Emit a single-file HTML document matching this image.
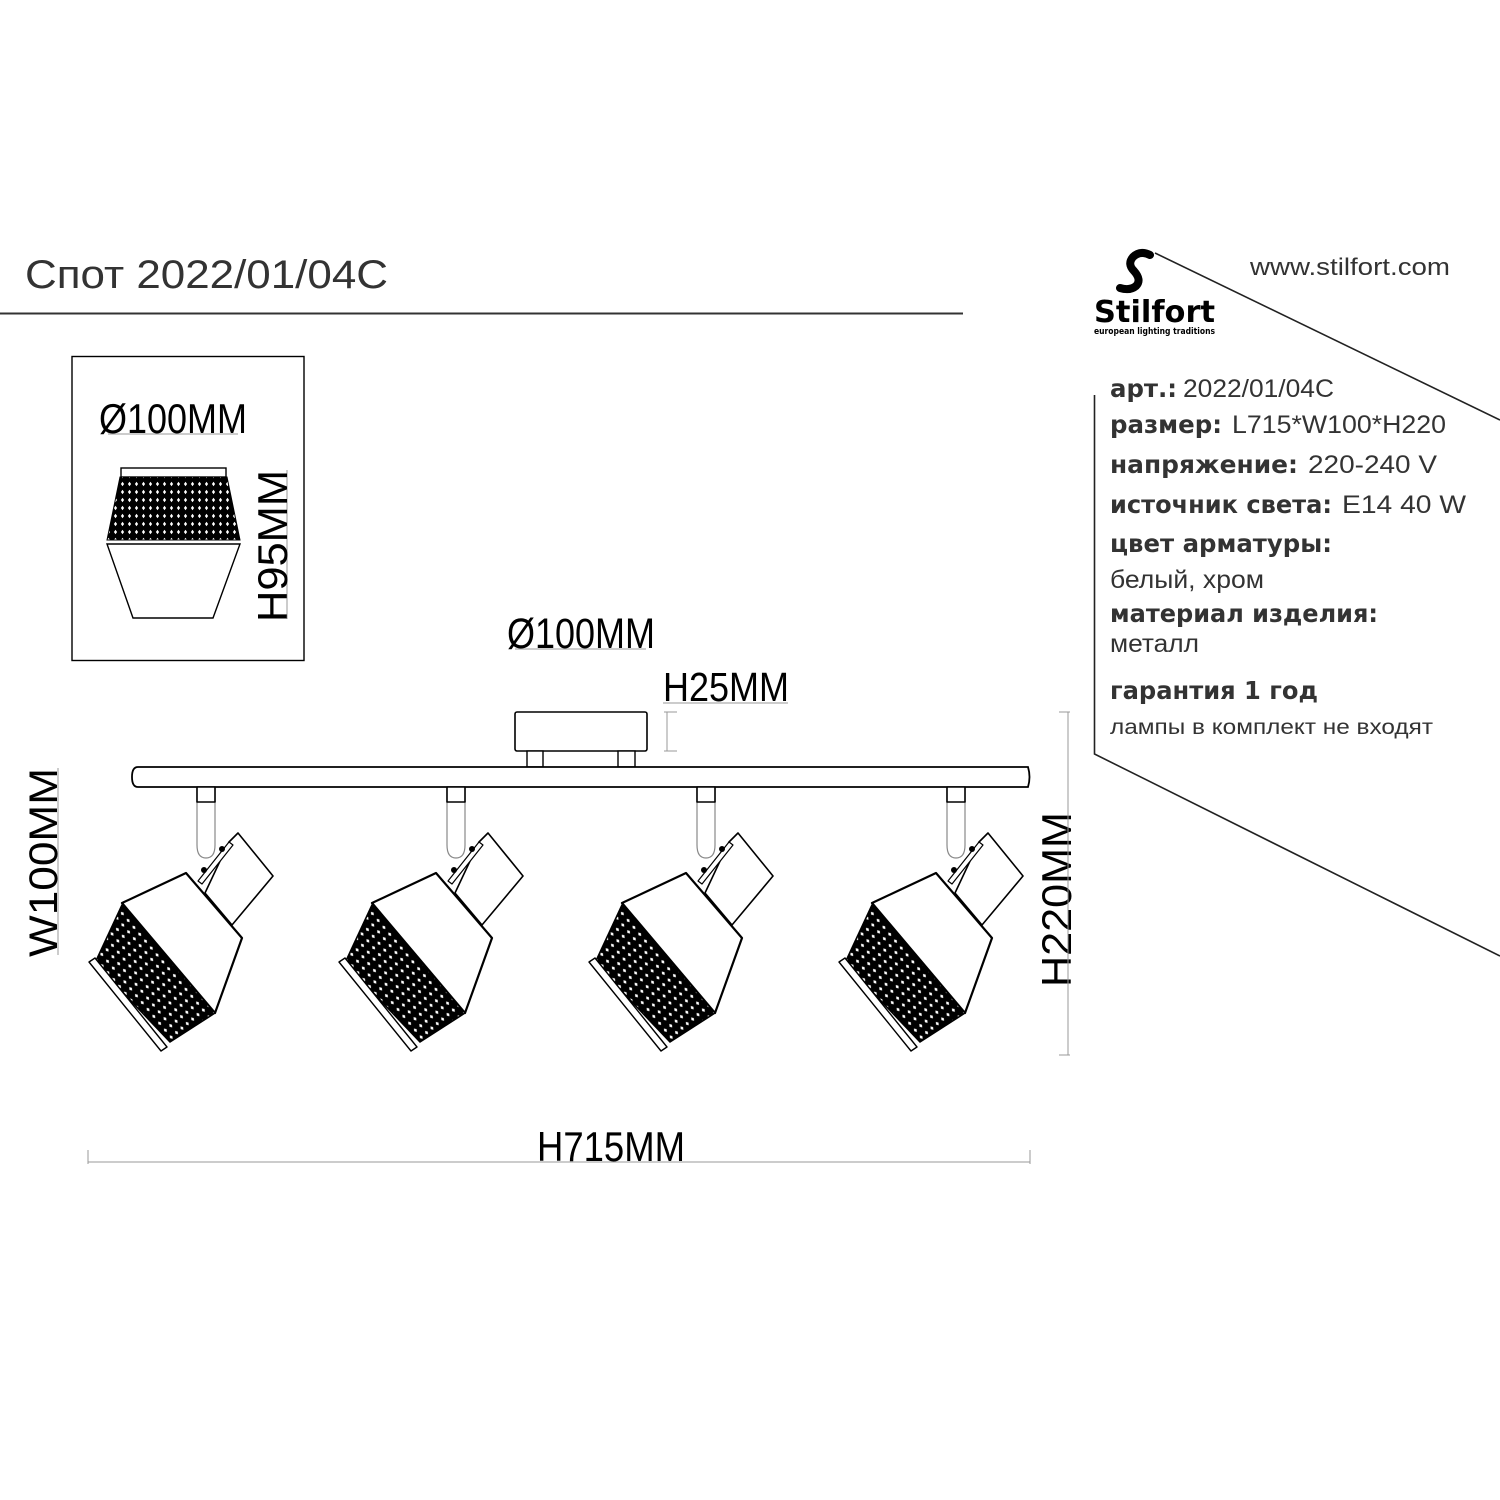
<!DOCTYPE html>
<html><head><meta charset="utf-8"><style>
html,body{margin:0;padding:0;background:#fff;}
svg{display:block;}
.dim{font-family:"Liberation Sans",sans-serif;fill:#000;}
.b{font-family:"DejaVu Sans","Liberation Sans",sans-serif;font-weight:bold;fill:#333;}
.r{font-family:"Liberation Sans",sans-serif;fill:#333;}
</style></head><body>
<svg width="1500" height="1500" viewBox="0 0 1500 1500" xmlns="http://www.w3.org/2000/svg">
<defs>
<pattern id="mesh" width="7" height="9" patternUnits="userSpaceOnUse" patternTransform="rotate(-40)">
<rect width="7" height="9" fill="#000"/>
<path d="M3.5,2.2 L5.1,4.5 L3.5,6.8 L1.9,4.5 Z" fill="#fff"/>
</pattern>
<pattern id="mesh2" width="7" height="8" patternUnits="userSpaceOnUse">
<rect width="7" height="8" fill="#000"/>
<path d="M3.5,1.8 L5.1,4 L3.5,6.2 L1.9,4 Z" fill="#fff"/>
</pattern>
<g id="lamp" fill="#fff" stroke="#000" stroke-width="1.6" stroke-linejoin="round">
<path d="M197,845 L197,787 L215,787 L215,845 Q215,858 206,858 Q197,858 197,845 Z" stroke="#888" stroke-width="1.2"/>
<rect x="197" y="787" width="18" height="15" stroke="#000"/>
<path d="M229,842 L238,833 L273,876 L232,925 L205,893 Z"/>
<path d="M198,881 L229,842 L233,845 L202,884 Z" stroke-width="1.2"/>
<circle cx="204" cy="870" r="3" fill="#000" stroke="none"/>
<circle cx="222" cy="849" r="3" fill="#000" stroke="none"/>
<path d="M122,903 L186,873 L242,938 L215,1013 Z" stroke-width="2.2"/>
<path d="M122,905 L215,1013 L170,1042 L95,963 Z" fill="url(#mesh)" stroke="#000"/>
<path d="M89,962 L95,958 L167,1047 L161,1051 Z" stroke-width="1.4"/>
</g>
</defs>

<text x="25" y="288" class="r" font-size="40" textLength="363" lengthAdjust="spacingAndGlyphs">Спот 2022/01/04C</text>
<line x1="0" y1="313.5" x2="963" y2="313.5" stroke="#333" stroke-width="2"/>

<rect x="72" y="356.5" width="232" height="304" fill="none" stroke="#000" stroke-width="1.4"/>
<text x="99" y="433" class="dim" font-size="42" textLength="148" lengthAdjust="spacingAndGlyphs">Ø100MM</text>
<line x1="108" y1="434" x2="238" y2="434" stroke="#999" stroke-width="1"/>
<rect x="121" y="468" width="105" height="9" fill="#fff" stroke="#000" stroke-width="1.4"/>
<path d="M120,477 L227,477 L240,540 L107,540 Z" fill="url(#mesh2)" stroke="#000" stroke-width="1"/>
<path d="M107,544 L240,544 L213,618 L133,618 Z" fill="#fff" stroke="#000" stroke-width="1.4"/>
<line x1="287" y1="470" x2="287" y2="619" stroke="#999" stroke-width="1"/>
<text transform="translate(287,622) rotate(-90)" class="dim" font-size="42" textLength="152" lengthAdjust="spacingAndGlyphs">H95MM</text>

<text x="507" y="648" class="dim" font-size="43" textLength="148" lengthAdjust="spacingAndGlyphs">Ø100MM</text>
<line x1="515" y1="649" x2="646" y2="649" stroke="#999" stroke-width="1"/>
<text x="663" y="701" class="dim" font-size="41" textLength="126" lengthAdjust="spacingAndGlyphs">H25MM</text>
<line x1="663" y1="703" x2="788" y2="703" stroke="#999" stroke-width="1"/>
<line x1="667" y1="712" x2="667" y2="751" stroke="#999" stroke-width="1"/>
<line x1="664" y1="712" x2="677" y2="712" stroke="#999" stroke-width="1"/>
<line x1="664" y1="751" x2="677" y2="751" stroke="#999" stroke-width="1"/>
<rect x="515" y="712" width="132" height="39" rx="2" fill="#fff" stroke="#000" stroke-width="1.6"/>
<rect x="527" y="751" width="16" height="16" fill="#fff" stroke="#000" stroke-width="1.4"/>
<rect x="618" y="751" width="17" height="16" fill="#fff" stroke="#000" stroke-width="1.4"/>

<path d="M138,767 L1028,767 Q1031,777 1028,787 L138,787 Q132,787 132,777 Q132,767 138,767 Z" fill="#fff" stroke="#000" stroke-width="1.8"/>

<use href="#lamp"/>
<use href="#lamp" transform="translate(250,0)"/>
<use href="#lamp" transform="translate(500,0)"/>
<use href="#lamp" transform="translate(750,0)"/>

<text transform="translate(57,957) rotate(-90)" class="dim" font-size="40" textLength="189" lengthAdjust="spacingAndGlyphs">W100MM</text>
<line x1="58" y1="768" x2="58" y2="955" stroke="#999" stroke-width="1"/>

<text transform="translate(1071,987) rotate(-90)" class="dim" font-size="42" textLength="175" lengthAdjust="spacingAndGlyphs">H220MM</text>
<line x1="1068" y1="712" x2="1068" y2="1055" stroke="#999" stroke-width="1"/>
<line x1="1059" y1="712" x2="1070" y2="712" stroke="#999" stroke-width="1"/>
<line x1="1059" y1="1055" x2="1070" y2="1055" stroke="#999" stroke-width="1"/>

<text x="537" y="1161" class="dim" font-size="42" textLength="148" lengthAdjust="spacingAndGlyphs">H715MM</text>
<line x1="88" y1="1162" x2="1030" y2="1162" stroke="#999" stroke-width="1"/>
<line x1="88" y1="1150" x2="88" y2="1164" stroke="#999" stroke-width="1"/>
<line x1="1030" y1="1150" x2="1030" y2="1164" stroke="#999" stroke-width="1"/>

<line x1="1155" y1="253" x2="1500" y2="420" stroke="#222" stroke-width="1.6"/>
<polyline points="1094.5,395 1094.5,754 1500,956" fill="none" stroke="#222" stroke-width="1.6"/>

<path d="M1150,255 Q1140,250 1133,257 Q1127,264 1134,271 Q1142,280 1136,286 Q1130,291 1120,288" fill="none" stroke="#000" stroke-width="8" stroke-linecap="round"/>
<text x="1094" y="322" font-family="DejaVu Sans,sans-serif" font-weight="bold" font-size="30" fill="#000" textLength="121" lengthAdjust="spacingAndGlyphs">Stilfort</text>
<text x="1094" y="334" font-family="DejaVu Sans,sans-serif" font-weight="bold" font-size="9" fill="#000" textLength="121" lengthAdjust="spacingAndGlyphs">european lighting traditions</text>
<text x="1250" y="275" class="r" font-size="24" textLength="200" lengthAdjust="spacingAndGlyphs">www.stilfort.com</text>

<text x="1110" y="397" class="b" font-size="25" textLength="67" lengthAdjust="spacingAndGlyphs">арт.:</text>
<text x="1183" y="397" class="r" font-size="25" textLength="151" lengthAdjust="spacingAndGlyphs">2022/01/04C</text>
<text x="1110" y="433" class="b" font-size="25" textLength="112" lengthAdjust="spacingAndGlyphs">размер:</text>
<text x="1232" y="433" class="r" font-size="25" textLength="214" lengthAdjust="spacingAndGlyphs">L715*W100*H220</text>
<text x="1110" y="473" class="b" font-size="25" textLength="188" lengthAdjust="spacingAndGlyphs">напряжение:</text>
<text x="1308" y="473" class="r" font-size="25" textLength="129" lengthAdjust="spacingAndGlyphs">220-240 V</text>
<text x="1110" y="513" class="b" font-size="25" textLength="222" lengthAdjust="spacingAndGlyphs">источник света:</text>
<text x="1342" y="513" class="r" font-size="25" textLength="124" lengthAdjust="spacingAndGlyphs">E14 40 W</text>
<text x="1110" y="552" class="b" font-size="25" textLength="222" lengthAdjust="spacingAndGlyphs">цвет арматуры:</text>
<text x="1110" y="588" class="r" font-size="25" textLength="154" lengthAdjust="spacingAndGlyphs">белый, хром</text>
<text x="1110" y="622" class="b" font-size="25" textLength="268" lengthAdjust="spacingAndGlyphs">материал изделия:</text>
<text x="1110" y="652" class="r" font-size="25" textLength="89" lengthAdjust="spacingAndGlyphs">металл</text>
<text x="1110" y="699" class="b" font-size="25" textLength="208" lengthAdjust="spacingAndGlyphs">гарантия 1 год</text>
<text x="1110" y="734" class="r" font-size="21" textLength="323" lengthAdjust="spacingAndGlyphs">лампы в  комплект не входят</text>
</svg>
</body></html>
